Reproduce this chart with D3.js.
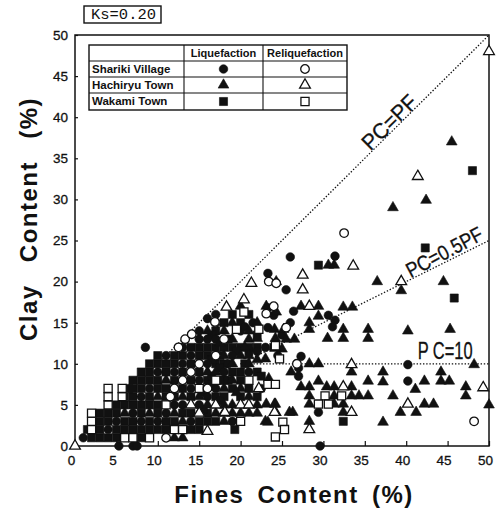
<!DOCTYPE html>
<html><head><meta charset="utf-8">
<script src="https://cdn.jsdelivr.net/npm/d3@7"></script>
<style>body{margin:0;background:#fff}</style>
</head><body><svg id="c" width="499" height="510"></svg>
<script>
const xTicks=[0,5,10,15,20,25,30,35,40,45,50];
const yTicks=[0,5,10,15,20,25,30,35,40,45,50];
const towns=["Shariki Village","Hachiryu Town","Wakami Town"];
const states=["Liquefaction","Reliquefaction"];
const ksLabel="Ks=0.20";
const xTitle="Fines Content (%)";
const yTitle="Clay Content (%)";

// Shariki Village - liquefaction (filled circle)
const sharikiLiq=[[1,1],[4,2],[5,3],[8,3],[10,3],[14,3],[7,4],[11,4],[12,5],[13,5],[15,5],[8,6],[16,6],[9,7],[14,7],[17,7],[15,8],[10,9],[12,9],[18,9],[13,10],[16,10],[11,11],[14,11],[19,11],[13,12],[8.5,12],[15,13],[16,13],[17,13],[15,14],[20,14],[16,15.5],[17,16],[5.3,0],[7,0],[7.5,0],[29.6,0],[26,23],[31.4,23.1],[23.3,21],[25.5,19],[26.4,16.4],[30.6,15.9],[31.4,15.3],[31.1,14.5],[27.3,10.9],[27,9.5],[27,8.5],[40.2,9.9],[40.2,7.9],[29.4,4.1],[22,11.5],[23,12],[25,13.5],[21,9],[19,3],[26,15],[24.5,11],[23.3,16.8],[24,15.9],[23.3,14.4],[22.5,7],[17.5,5.5],[20.5,14.5],[21.5,15],[18.5,10],[16.5,8.5]];
// Shariki Village - reliquefaction (open circle)
const sharikiReliq=[[11,1],[12,7],[13,8],[14,9],[15,10],[12.5,12],[13.3,13],[14.1,13.6],[16,7],[17,11],[17,15],[18,13],[16.9,15.1],[23.4,20],[24.3,19.8],[32.5,25.9],[48.2,3],[23.1,16.1],[24,17],[11.5,6],[25.5,14.4],[26.8,10]];
// Hachiryu Town - liquefaction (filled triangle)
const hachiryuLiq=[[6,4],[9,4],[10,6],[11,8],[12,1],[12,4],[13,1],[13,3],[13,6],[15,6],[16,5],[16,9],[16,14],[17,4],[17,9],[18,5],[18,7],[18,11],[18,14],[19,4],[19,5],[19,8],[19,10],[19,13],[19,15],[20,4],[20,7],[20,11],[20,17],[21,4],[21,6],[21,10],[21,11],[21,13],[21,14],[22,4],[22,5],[22,10.5],[22,15],[23,3],
[45.5,37],[42.4,29.9],[38.4,29],[30.6,22],[31.3,22],[24.3,20],[36.5,20],[39.4,18.9],[44.5,20],[27.3,17],[29.4,17],[32.4,16.9],[33.5,16.9],[29.4,15.8],[28.3,15],[28.3,14.2],[30.5,13.1],[32.4,14.2],[32.4,13.1],[35.4,14.2],[35.4,13.1],[40.2,14],[45.3,14.2],[33.4,9],[48.2,9.9],[37.2,9],[37.2,7.8],[35.4,7.9],[41.1,6.9],[42.2,7.9],[44.2,9],[44.2,7.9],[45.2,7.9],[47.2,7.2],[47.2,6.1],[50,5],[39.3,4.1],[41.2,4.1],[42.2,5.1],[43.3,5.1],[38.4,6.1],[34.3,6.1],[35.4,6.1],[37.2,2.9],[26.1,9],[28.3,10],[29.4,10],[27.3,7.2],[28.3,7.2],[30.4,7.2],[31.3,7.2],[33.4,7.2],[29.4,7.9],[28.3,6.1],[31.3,6.1],[33.4,6.1],[28.3,5.1],[31.3,5.1],[32.4,5.1],[32.4,4.1],[28.3,3],[23.3,2.9],[24.2,5.1],[26.3,4.1],[22,13.1],[24.2,13.1],[23.4,8.2],[23.1,5.1],[24.1,5.1],[25.9,4.1],[24.1,14.2],[25.2,14.2],[25.5,13],[26.5,13],[23.1,17],[24.3,16.3],[23,10.6],[25,11.8],[19.5,6.5],[20.5,12],[17.5,12.5],[18,3]];
// Hachiryu Town - reliquefaction (open triangle)
const hachiryuReliq=[[0,0],[14,5],[15,4],[17,5],[18,4],[18.3,16.9],[20,5],[20.4,17.8],[21,5],[21.3,19.8],[22.2,7],[16,1.8],[50,48],[41.4,32.8],[33.6,21.9],[27.5,20.8],[27.5,19],[39.4,20],[28.3,17],[33.4,9.9],[49.3,7.1],[40.2,5.1],[24.2,4.1],[33.4,4.1],[28.3,2],[24.1,4.1],[32.4,7.2],[18.1,4.1]];
// Wakami Town - liquefaction (filled square)
const wakamiLiq=[[1.5,2],[2,1],[3,1],[3,2],[3,3],[3,4],[4,1],[4,3],[4,4],[5,1],[5,2],[5,4],[5,5],[6,2],[6,3],[6,5],[6,6],[6.5,7],[7,2],[7,3],[7,5],[7,6],[7,7],[7,8],[8,1],[8,2],[8,4],[8,5],[8,7],[8,8],[8,9],[9,2],[9,3],[9,5],[9,6],[9,8],[9,9],[9,10],[10,2],[10,4],[10,5],[10,7],[10,8],[10,10],[10,11],[11,2],[11,3],[11,6],[11,7],[11,9],[11,10],[12,3],[12,6],[12,8],[12,10],[12,11],[13,4],[13,7],[13,9],[13,11],[14,2],[14,4],[14,6],[14,8],[14,10],[14,12],[15,2],[15,3],[15,9],[15,11],[15,12],[16,4],[16,8],[16,11],[16,12],[17,6],[17,10],[17,12],[17,14],[18,6],[18,10],[18,12],[19,9],[19,12],[20,9],[20,12],[21,16],[22,9],[22,12],[29.4,22],[32.4,3],[42.3,24.1],[45.8,18],[48,33.5],[19.3,2],[21,11.5],[24,12],[22.5,8.5],
[15.5,6.5],[16.5,7.5],[17.5,9.5],[18.5,8],[16.5,10.5],[17.5,11],[18.5,13],[19.5,11.5],[20.5,10],[16,3],[17,3],[18,8],[19,7],[20,6],[20,8],[21,7],[21,12],[22,6],[18,15],[19,16],[20,15],[22,13.5],[15.5,4.5],[16.5,13.5],[17.5,8]];
// Wakami Town - reliquefaction (open square)
const wakamiReliq=[[2,2],[2,3],[2,4],[4,5],[4,6],[4,7],[5.7,6],[5.7,7],[6,1],[7,1],[9,1],[12,2],[13,2],[11,5],[15,7],[17,8],[19.5,14.2],[20,3],[20.4,16.3],[21,8],[22.2,14.2],[24.2,12.2],[23.3,7.5],[24.2,7.5],[25.1,2.9],[25.3,2],[24.2,1.1],[30.2,6.1],[32.2,6.1],[29.4,5.1],[30.6,5.1],[24.7,10.6]];

const pcPF=[[10,10],[50,50]];
const pcHalfPF=[[20,10],[50,25]];
const pc10=[[20,10],[50,10]];

const svg=d3.select("#c");
const x=d3.scaleLinear().domain([0,50]).range([75,489]);
const y=d3.scaleLinear().domain([0,50]).range([446,35]);
const ink="#111";
const font="'Liberation Sans', Arial, sans-serif";

// axes
const gx=svg.append("g").attr("transform",`translate(0,${y(0)})`)
  .call(d3.axisBottom(x).tickValues(xTicks).tickSizeInner(-5).tickSizeOuter(0).tickPadding(9));
const gy=svg.append("g").attr("transform",`translate(${x(0)},0)`)
  .call(d3.axisLeft(y).tickValues(yTicks).tickSizeInner(-3).tickSizeOuter(0).tickPadding(7));
[gx,gy].forEach(g=>{
  g.select(".domain").remove();
  g.selectAll("line").attr("stroke",ink).attr("stroke-width",1.2);
  g.selectAll("text").attr("font-family",font).attr("font-size",13.5).attr("fill",ink)
    .attr("stroke",ink).attr("stroke-width",0.3);
});
gx.selectAll("text").attr("dx",-4);

// frame
svg.append("rect").attr("x",x(0)).attr("y",y(50)).attr("width",x(50)-x(0)).attr("height",y(0)-y(50))
  .attr("fill","none").attr("stroke",ink).attr("stroke-width",1.5);

// reference lines
const line=d3.line().x(d=>x(d[0])).y(d=>y(d[1]));
[pcPF,pcHalfPF,pc10].forEach(p=>{
  svg.append("path").attr("d",line(p)).attr("fill","none").attr("stroke",ink)
    .attr("stroke-width",1.3).attr("stroke-dasharray","1.4,1.8");
});

// markers
const sym={circle:d3.symbolCircle,triangle:d3.symbolTriangle,square:d3.symbolSquare};
const sz={circle:58,triangle:50,square:66};
function draw(data,shape,filled){
  svg.append("g").selectAll("path").data(data).join("path")
    .attr("d",d3.symbol().type(sym[shape]).size(sz[shape]))
    .attr("transform",d=>`translate(${x(d[0])},${y(d[1])})`)
    .attr("fill",filled?ink:"#fff").attr("stroke",ink).attr("stroke-width",filled?0.6:1.3);
}
draw(wakamiLiq,"square",true);
draw(sharikiLiq,"circle",true);
draw(hachiryuLiq,"triangle",true);
draw(wakamiReliq,"square",false);
draw(sharikiReliq,"circle",false);
draw(hachiryuReliq,"triangle",false);

// line labels
function lab(t,fx,fy,ang,len,fs){
  svg.append("text").attr("transform",`translate(${x(fx)},${y(fy)}) rotate(${ang})`)
    .attr("text-anchor","middle").attr("dy","0.35em").attr("font-family",font)
    .attr("font-size",fs).attr("fill",ink).attr("stroke",ink).attr("stroke-width",0.3)
    .attr("textLength",len).attr("lengthAdjust","spacingAndGlyphs").text(t);
}
lab("PC=PF",37.95,39.4,-44.7,68,22);
lab("PC=0.5PF",44.6,23.6,-28,84,21);
lab("P C=10",44.7,11.6,0,55,23);

// Ks box
svg.append("rect").attr("x",84).attr("y",6).attr("width",77).attr("height",17)
  .attr("fill","#fff").attr("stroke",ink).attr("stroke-width",1.4);
svg.append("text").attr("x",91).attr("y",19).attr("font-family","'Liberation Mono', monospace")
  .attr("font-size",15).attr("fill",ink).attr("textLength",65).attr("lengthAdjust","spacingAndGlyphs").text(ksLabel);

// legend table
const tx=[89,184,263,347], ty=[45,61,77,93,110];
const lg=svg.append("g");
lg.append("rect").attr("x",tx[0]).attr("y",ty[0]).attr("width",tx[3]-tx[0]).attr("height",ty[4]-ty[0])
  .attr("fill","#fff").attr("stroke",ink).attr("stroke-width",1.4);
ty.slice(1,4).forEach(v=>lg.append("line").attr("x1",tx[0]).attr("x2",tx[3]).attr("y1",v).attr("y2",v).attr("stroke",ink).attr("stroke-width",1.1));
tx.slice(1,3).forEach(v=>lg.append("line").attr("x1",v).attr("x2",v).attr("y1",ty[0]).attr("y2",ty[4]).attr("stroke",ink).attr("stroke-width",1.1));
states.forEach((s,i)=>lg.append("text").attr("x",(tx[i+1]+tx[i+2])/2).attr("y",ty[0]+12).attr("text-anchor","middle")
  .attr("font-family",font).attr("font-weight","bold").attr("font-size",11).attr("fill",ink).text(s));
const shapes=["circle","triangle","square"];
towns.forEach((t,i)=>{
  lg.append("text").attr("x",tx[0]+3).attr("y",ty[i+1]+12).attr("font-family",font).attr("font-weight","bold")
    .attr("font-size",11.5).attr("fill",ink).text(t);
  [true,false].forEach((f,j)=>{
    lg.append("path").attr("d",d3.symbol().type(sym[shapes[i]]).size(sz[shapes[i]])())
      .attr("transform",`translate(${(tx[j+1]+tx[j+2])/2},${(ty[i+1]+ty[i+2])/2})`)
      .attr("fill",f?ink:"#fff").attr("stroke",ink).attr("stroke-width",f?0.6:1.3);
  });
});

// axis titles
svg.append("text").attr("x",294).attr("y",503).attr("text-anchor","middle").attr("font-family",font)
  .attr("font-weight","bold").attr("font-size",24).attr("fill",ink)
  .attr("letter-spacing",1.5).attr("word-spacing",5).text(xTitle);
svg.append("text").attr("transform","translate(37,219) rotate(-90)").attr("text-anchor","middle").attr("font-family",font)
  .attr("font-weight","bold").attr("font-size",24).attr("fill",ink)
  .attr("letter-spacing",1.5).attr("word-spacing",14).text(yTitle);
</script></body></html>
